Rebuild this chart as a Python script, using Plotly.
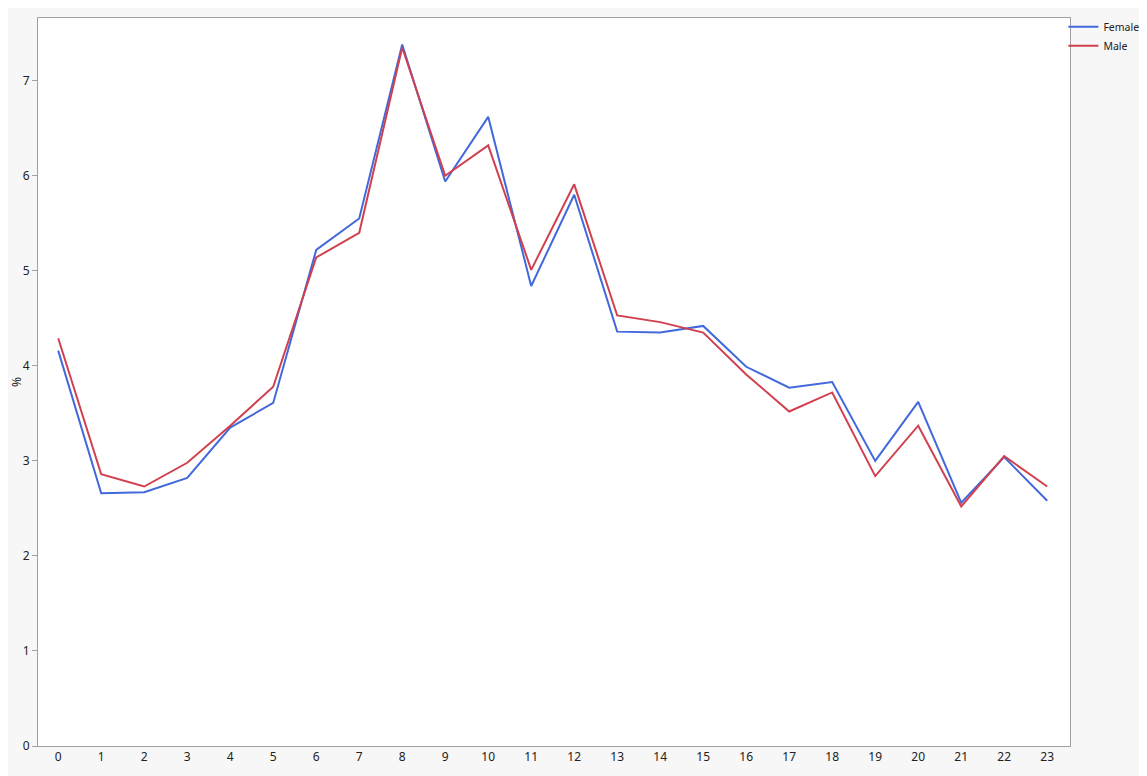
import plotly.graph_objects as go

hours = list(range(24))
female = [4.16, 2.66, 2.67, 2.82, 3.35, 3.61, 5.22, 5.55, 7.38, 5.94, 6.62, 4.84,
          5.80, 4.36, 4.35, 4.42, 3.99, 3.77, 3.83, 3.00, 3.62, 2.56, 3.04, 2.58]
male = [4.29, 2.86, 2.73, 2.98, 3.37, 3.78, 5.14, 5.40, 7.35, 6.00, 6.32, 5.01,
        5.91, 4.53, 4.46, 4.35, 3.91, 3.52, 3.72, 2.84, 3.37, 2.52, 3.05, 2.73]

fig = go.Figure()
fig.add_trace(go.Scatter(x=hours, y=female, mode="lines", name="Female",
                         line=dict(color="#4169db", width=2)))
fig.add_trace(go.Scatter(x=hours, y=male, mode="lines", name="Male",
                         line=dict(color="#d0404e", width=2)))

# The page body adds an 8px margin, so the figure is 8px smaller than the window.
fig.update_layout(
    width=1139, height=768,
    paper_bgcolor="#f7f7f7", plot_bgcolor="#ffffff",
    margin=dict(l=30, r=77, t=10, b=30, autoexpand=False),
    font=dict(family="Noto Sans, DejaVu Sans, sans-serif", size=12, color="#222222"),
    showlegend=True,
    legend=dict(x=0.9936, y=1.008, xanchor="left", yanchor="top",
                bgcolor="rgba(0,0,0,0)", font=dict(size=10.5),
                tracegroupgap=0, itemwidth=30),
    xaxis=dict(range=[-0.47, 23.53], tickmode="array", tickvals=hours,
               ticktext=[str(h) for h in hours], showgrid=False, zeroline=False,
               showline=True, linecolor="#a0a0a0", linewidth=1, mirror=True,
               ticks="", tickfont=dict(size=12), automargin=False),
    yaxis=dict(range=[0, 7.66], tickmode="array", tickvals=list(range(8)),
               showgrid=False, zeroline=False, showline=True, linecolor="#a0a0a0",
               linewidth=1, mirror=True, ticks="outside", ticklen=5,
               tickcolor="#a0a0a0", tickfont=dict(size=12), automargin=False,
               title=dict(text="%", font=dict(size=12), standoff=6)),
)

fig.write_html("out.html")
